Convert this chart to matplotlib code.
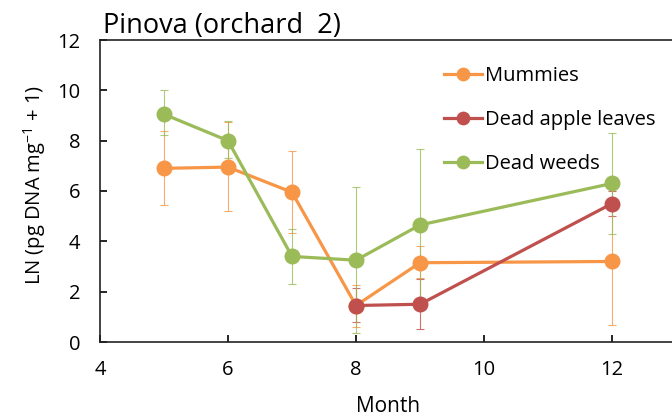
import matplotlib
matplotlib.use("Agg")
import matplotlib.pyplot as plt

plt.rcParams["font.family"] = ["Open Sans", "DejaVu Sans"]
plt.rcParams["mathtext.fontset"] = "custom"
plt.rcParams["mathtext.rm"] = "Open Sans"

# data
months_all = [5, 6, 7, 8, 9, 12]
months_leaves = [8, 9, 12]

mummies = [6.9, 6.95, 5.95, 1.45, 3.15, 3.2]
mummies_hi = [8.4, 8.75, 7.6, 2.25, 3.8, 5.7]
mummies_lo = [5.45, 5.2, 4.35, 0.6, 2.55, 0.68]

leaves = [1.45, 1.5, 5.5]
leaves_hi = [2.15, 2.5, 6.0]
leaves_lo = [0.8, 0.5, 5.0]

weeds = [9.05, 8.0, 3.4, 3.25, 4.65, 6.3]
weeds_hi = [10.0, 8.78, 4.5, 6.15, 7.65, 8.32]
weeds_lo = [8.22, 7.3, 2.3, 0.35, 1.65, 4.3]

series = [
    ("Mummies", months_all, mummies, mummies_lo, mummies_hi, "#F79646"),
    ("Dead apple leaves", months_leaves, leaves, leaves_lo, leaves_hi, "#C0504D"),
    ("Dead weeds", months_all, weeds, weeds_lo, weeds_hi, "#9BBB59"),
]

fig = plt.figure(figsize=(6.72, 4.19), dpi=100)
ax = fig.add_axes([100 / 672, 77 / 419, 576 / 672, 302 / 419])

handles = []
for name, xs, ys, lo, hi, color in series:
    yerr = [[y - l for y, l in zip(ys, lo)], [h - y for y, h in zip(ys, hi)]]
    ax.errorbar(xs, ys, yerr=yerr, fmt="none", ecolor=color, elinewidth=0.8,
                capsize=3, capthick=0.8, alpha=0.8, zorder=2)
    (ln,) = ax.plot(xs, ys, color=color, lw=2.3, marker="o", markersize=10.5,
                    label=name, zorder=3)
    handles.append(ln)

ax.set_xlim(4, 13)
ax.set_ylim(0, 12)
ax.set_xticks([4, 6, 8, 10, 12])
ax.set_yticks([0, 2, 4, 6, 8, 10, 12])
ax.tick_params(direction="in", labelsize=14.5, length=5, width=1.2)
ax.tick_params(axis="x", pad=13)
ax.tick_params(axis="y", pad=14)
for s in ax.spines.values():
    s.set_linewidth(1.2)
    s.set_color("#222222")

ax.set_xlabel("Month", fontsize=15)
ax.xaxis.set_label_coords(0.5, -0.18)
ax.set_ylabel("LN (pg DNA mg$^{-1}$ + 1)", fontsize=14.5)
ax.yaxis.set_label_coords(-0.09, 0.52)
ax.set_title("Pinova (orchard  2)", fontsize=19.5, x=0.005, ha="left", pad=1)

leg = ax.legend(handles=handles, loc="upper left", bbox_to_anchor=(0.565, 0.975),
                frameon=False, fontsize=14.5, handlelength=1.9, handletextpad=0.15,
                labelspacing=1.2, markerscale=0.85)

fig.savefig("out.png", dpi=100)
